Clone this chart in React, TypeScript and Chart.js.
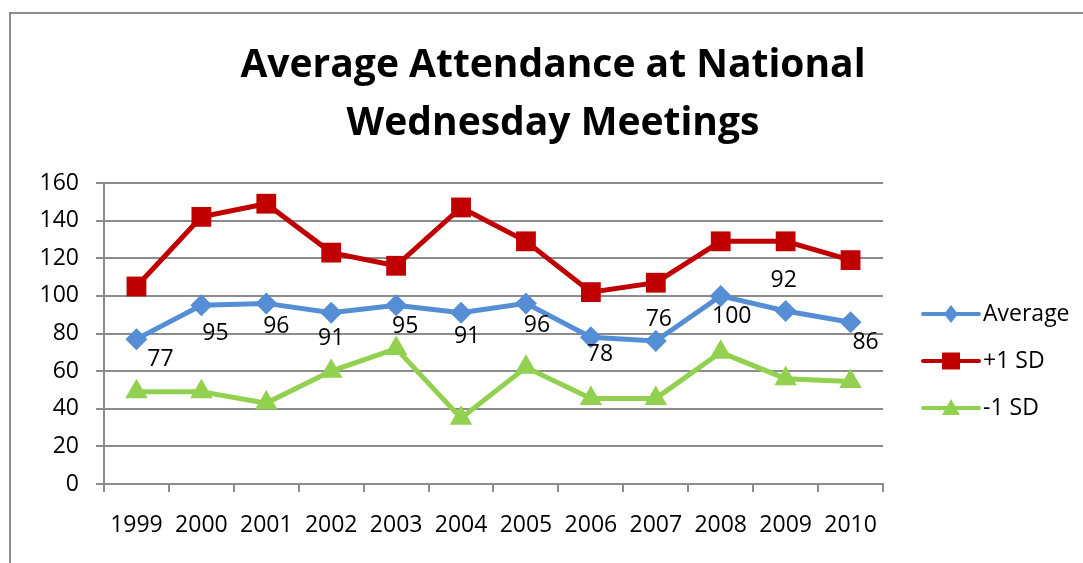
import React, { useEffect, useRef } from "react";
import { Chart, registerables } from "chart.js";

Chart.register(...registerables);

const TITLE_LINES = ["Average Attendance at National", "Wednesday Meetings"];
const YEARS = ["1999", "2000", "2001", "2002", "2003", "2004", "2005", "2006", "2007", "2008", "2009", "2010"];
const AVERAGE = [77, 95, 96, 91, 95, 91, 96, 78, 76, 100, 92, 86];
const PLUS_SD = [105, 142, 149, 123, 116, 147, 129, 102, 107, 129, 129, 119];
const MINUS_SD = [49, 49, 43, 60, 72, 35, 62, 45.5, 45.5, 70, 56, 54.5];
const Y_TICKS = [0, 20, 40, 60, 80, 100, 120, 140, 160];
const SERIES_NAMES = ["Average", "+1 SD", "-1 SD"];

const BLUE = "#558ED5";
const RED = "#C00000";
const GREEN = "#92D050";
const GRID = "#8C8C8C";
const FONT = "'Open Sans', 'Liberation Sans', sans-serif";

// label offsets (dx, dy) relative to each Average point, Excel-like placement
const AVG_LABEL_OFFSETS = [
  [24, 20], [14, 28], [10, 23], [0, 26], [9, 21], [6, 24],
  [11, 22], [9, 17], [3, -22], [11, 21], [-2, -30], [15, 20],
];

const titlePlugin = {
  id: "customTitle",
  afterDraw(chart: any) {
    const ctx = chart.ctx;
    ctx.save();
    ctx.fillStyle = "#000";
    ctx.font = `bold 39px ${FONT}`;
    ctx.textAlign = "center";
    ctx.textBaseline = "alphabetic";
    TITLE_LINES.forEach((line, i) => {
      ctx.fillText(line, 553, 77 + i * 58);
    });
    ctx.restore();
  },
};

const labelPlugin = {
  id: "avgLabels",
  afterDatasetsDraw(chart: any) {
    const ctx = chart.ctx;
    const meta = chart.getDatasetMeta(0);
    ctx.save();
    ctx.fillStyle = "#000";
    ctx.font = `23px ${FONT}`;
    ctx.textAlign = "center";
    ctx.textBaseline = "middle";
    meta.data.forEach((pt: any, i: number) => {
      const off = AVG_LABEL_OFFSETS[i] || [0, 20];
      ctx.fillText(String(AVERAGE[i]), pt.x + off[0], pt.y + off[1]);
    });
    ctx.restore();
  },
};

function drawMarker(ctx: CanvasRenderingContext2D, style: string, x: number, y: number) {
  ctx.beginPath();
  if (style === "diamond") {
    ctx.moveTo(x, y - 9);
    ctx.lineTo(x + 7, y);
    ctx.lineTo(x, y + 9);
    ctx.lineTo(x - 7, y);
  } else if (style === "square") {
    ctx.rect(x - 9, y - 8.5, 18, 17);
  } else {
    ctx.moveTo(x, y - 9);
    ctx.lineTo(x + 9, y + 7);
    ctx.lineTo(x - 9, y + 7);
  }
  ctx.closePath();
  ctx.fill();
}

const legendPlugin = {
  id: "customLegend",
  afterDraw(chart: any) {
    const ctx = chart.ctx;
    const area = chart.chartArea;
    const colors = [BLUE, RED, GREEN];
    const markers = ["diamond", "square", "triangle"];
    ctx.save();
    SERIES_NAMES.forEach((name, i) => {
      const y = area.top + 131 + i * 47;
      const x0 = area.right + 40;
      ctx.strokeStyle = colors[i];
      ctx.fillStyle = colors[i];
      ctx.lineWidth = 4;
      ctx.lineCap = "round";
      ctx.beginPath();
      ctx.moveTo(x0, y);
      ctx.lineTo(x0 + 56, y);
      ctx.stroke();
      drawMarker(ctx, markers[i], x0 + 28, y);
      ctx.fillStyle = "#000";
      ctx.font = `23px ${FONT}`;
      ctx.textAlign = "left";
      ctx.textBaseline = "middle";
      ctx.fillText(name, x0 + 60, y);
    });
    ctx.restore();
  },
};

export default function App() {
  const canvasRef = useRef<HTMLCanvasElement | null>(null);

  useEffect(() => {
    if (!canvasRef.current) return;
    const chart = new Chart(canvasRef.current, {
      type: "line",
      data: {
        labels: YEARS,
        datasets: [
          {
            label: SERIES_NAMES[0],
            data: AVERAGE,
            borderColor: BLUE,
            backgroundColor: BLUE,
            borderWidth: 5,
            pointStyle: "rectRot",
            pointRadius: 11,
            pointBorderWidth: 0,
            tension: 0,
          },
          {
            label: SERIES_NAMES[1],
            data: PLUS_SD,
            borderColor: RED,
            backgroundColor: RED,
            borderWidth: 5,
            pointStyle: "rect",
            pointRadius: 14,
            pointBorderWidth: 0,
            tension: 0,
          },
          {
            label: SERIES_NAMES[2],
            data: MINUS_SD,
            borderColor: GREEN,
            backgroundColor: GREEN,
            borderWidth: 5,
            pointStyle: "triangle",
            pointRadius: 13,
            pointBorderWidth: 0,
            tension: 0,
          },
        ],
      },
      options: {
        animation: false,
        responsive: false,
        maintainAspectRatio: false,
        layout: { padding: { left: 0, right: 200, top: 183, bottom: 0 } },
        plugins: {
          legend: { display: false },
          title: { display: false },
          tooltip: { enabled: false },
        },
        scales: {
          x: {
            offset: true,
            grid: {
              display: true,
              offset: true,
              drawOnChartArea: false,
              drawTicks: true,
              tickLength: 8,
              color: GRID,
              lineWidth: 2,
            },
            border: { display: true, color: GRID, width: 2 },
            ticks: {
              color: "#000",
              font: { family: FONT, size: 23 },
              padding: 20,
              maxRotation: 0,
              autoSkip: false,
            },
            afterFit(scale: any) {
              scale.height = 79;
            },
          },
          y: {
            min: 0,
            max: 160,
            afterBuildTicks(scale: any) {
              scale.ticks = Y_TICKS.map((v) => ({ value: v }));
            },
            grid: {
              color: GRID,
              lineWidth: 2,
              drawTicks: true,
              tickLength: 8,
            },
            border: { display: true, color: GRID, width: 2 },
            ticks: {
              color: "#000",
              font: { family: FONT, size: 23 },
              padding: 17,
            },
            afterFit(scale: any) {
              scale.width = 104;
            },
          },
        },
      },
      plugins: [titlePlugin, labelPlugin, legendPlugin],
    });
    return () => chart.destroy();
  }, []);

  return (
    <div
      style={{
        position: "fixed",
        left: 0,
        top: 0,
        width: 1083,
        height: 563,
        overflow: "hidden",
        background: "#fff",
      }}
    >
      <div
        style={{
          position: "absolute",
          left: 9,
          top: 12,
          width: 1200,
          height: 700,
          borderTop: "2px solid #8C8C8C",
          borderLeft: "2px solid #8C8C8C",
        }}
      />
      <canvas
        ref={canvasRef}
        width={1083}
        height={563}
        style={{ position: "absolute", left: 0, top: 0, width: 1083, height: 563 }}
      />
    </div>
  );
}
